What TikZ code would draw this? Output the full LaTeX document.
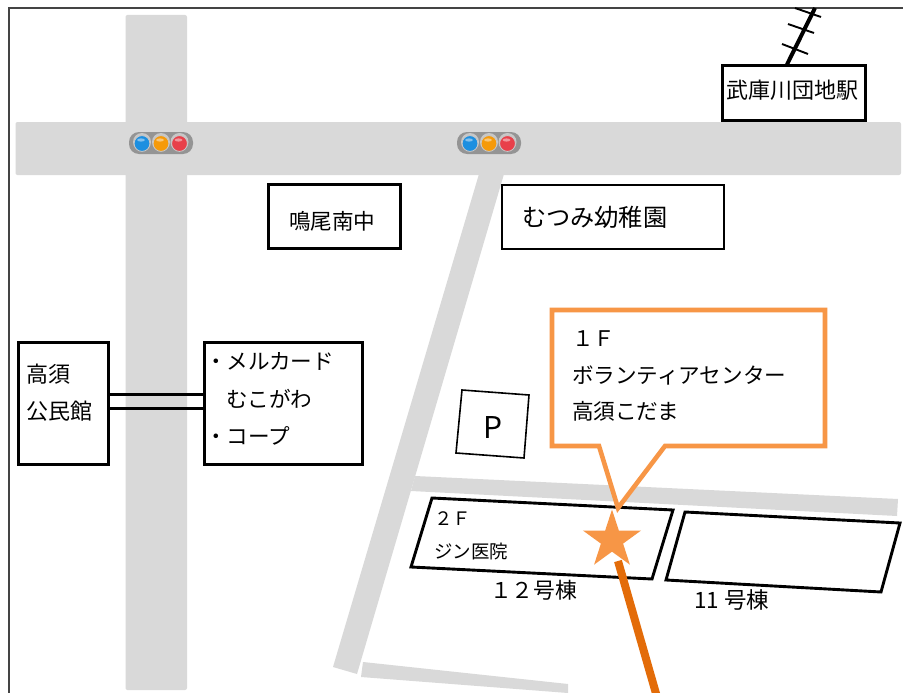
\documentclass[tikz,border=0pt]{standalone}
\usepackage{fontspec}
\setmainfont{Noto Sans CJK JP}
\usetikzlibrary{shapes.geometric}
\definecolor{road}{HTML}{D9D9D9}
\definecolor{calloutc}{HTML}{F79646}
\definecolor{routec}{HTML}{E36C09}
\definecolor{framec}{HTML}{444444}
\newcommand{\lab}[5][]{\node[lbl,#1] (#2) at (#3) {\fontsize{#4}{#4}\selectfont #5};}
\newcommand{\sigpill}[2]{%
 \fill[fill=black!42,rounded corners=10pt] (#1-32,#2-11) rectangle (#1+32,#2+11);
 \foreach \dx/\col in {-19/sigb,0/sigo,18.5/sigr}{
  \fill[black!22] (#1+\dx,#2-1) circle (9);
  \fill[\col,draw=white!78!black,line width=.8pt] (#1+\dx,#2+.5) circle (7.9);
  \fill[white!45!\col] (#1+\dx-1,#2-3) ellipse (4 and 1.6);
 }}
\definecolor{sigb}{HTML}{1C8FE0}
\definecolor{sigo}{HTML}{F59A0A}
\definecolor{sigr}{HTML}{E8404A}
\tikzset{
 lbl/.style={anchor=base west,inner sep=0pt,outer sep=0pt,text=black},
 mapbox/.style={draw=black,line width=3pt,fill=white,inner sep=0pt,rectangle},
 bldg/.style={draw=black,line width=2.9pt,fill=white,line join=miter},
 roadf/.style={fill=road,draw=none},
}
\begin{document}
\begin{tikzpicture}[x=1pt,y=-1pt]
\useasboundingbox (0,0) rectangle (903,693);
\fill[white] (0,0) rectangle (903,693);
\begin{scope}
\clip (0,0) rectangle (903,693);
% roads
\fill[roadf,rounded corners=2pt] (125.5,15) rectangle (187,690);
\fill[roadf,rounded corners=2pt] (15.5,122) rectangle (901,175);
\fill[roadf] (479,174) -- (504,174) -- (357,674) -- (333,667) -- cycle;
\fill[roadf] (415,476) -- (898,499) -- (897,516) -- (411,491) -- cycle;
\fill[roadf] (363,662) -- (568,684) -- (568,693) -- (361,677) -- cycle;
% frame
\draw[framec,line width=2pt] (8.5,693) -- (8.5,8.5) -- (903,8.5);
% signals
\sigpill{161}{143}
\sigpill{489}{143}
% station track
\node[mapbox,minimum width=143pt,minimum height=54pt] (station) at (793.5,93) {};
\coordinate (trackend) at (815,8);
\draw[black,line width=4pt] (station.north -| 787,0) -- (trackend);
\draw[black,line width=1.9pt] (782,44) -- (808,54);
\draw[black,line width=1.9pt] (788,24) -- (814,33);
\draw[black,line width=1.9pt] (795,8) -- (821,17);
% boxes
\node[mapbox,minimum width=132pt,minimum height=64pt] (naruo) at (334,216) {};
\node[mapbox,line width=2.6pt,minimum width=222pt,minimum height=64pt] (mutsumi) at (613,217) {};
\node[mapbox,minimum width=90pt,minimum height=122pt] (hall) at (63,403) {};
\node[mapbox,minimum width=158pt,minimum height=122pt] (shop) at (283,403) {};
\draw[black,line width=3pt] ([yshift=9pt]hall.east) -- ([yshift=9pt]shop.west);
\draw[black,line width=3pt] ([yshift=-5pt]hall.east) -- ([yshift=-5pt]shop.west);
% parking
\draw[black,line width=1.6pt,fill=white] (462,390) -- (529,395) -- (524,458) -- (456,453) -- cycle;
% buildings
\draw[bldg] (432,498) -- (673,510) -- (652,579) -- (411,567) -- cycle;
\draw[bldg] (685,512) -- (900,523) -- (881,592) -- (666,580) -- cycle;
% callout
\draw[calloutc,line width=4.6pt,fill=white,line join=miter] (552,310) -- (825,310) -- (825,446) -- (665,446) -- (618,508) -- (599,446) -- (552,446) -- cycle;
% star and route
\node[star,star points=5,star point ratio=2.618,fill=calloutc,draw=none,inner sep=0pt,outer sep=0pt,minimum size=61pt] (starm) at (612,540) {};
\coordinate (routeend) at (657,697);
\draw[routec,line width=8pt] (618,561) -- (routeend);
% texts
\lab{t1}{726,98.6}{22}{武庫川団地駅}
\lab{t2}{289,229.5}{21.6}{鳴尾南中}
\lab{t3}{522,226}{24.2}{むつみ幼稚園}
\lab{t4}{572,346}{21.5}{１Ｆ}
\lab{t5}{572,383}{21.6}{ボランティアセンター}
\lab{t6}{572,419}{21.6}{高須こだま}
\lab{t7}{27,382}{22}{高須}
\lab{t8}{27,419}{22}{公民館}
\lab{t9}{205,369}{21.6}{・メルカード}
\lab{t10}{226,407}{21.6}{むこがわ}
\lab{t11}{205,444}{21.6}{・コープ}
\lab{t12}{434,525}{18.5}{２Ｆ}
\lab{t13}{434,558}{18.5}{ジン医院}
\lab{t14}{490,598}{21.8}{１２号棟}
\lab{t15}{694,608}{22.5}{11 号棟}
\lab{t16}{483,438}{30}{P}
\end{scope}
\end{tikzpicture}
\end{document}
